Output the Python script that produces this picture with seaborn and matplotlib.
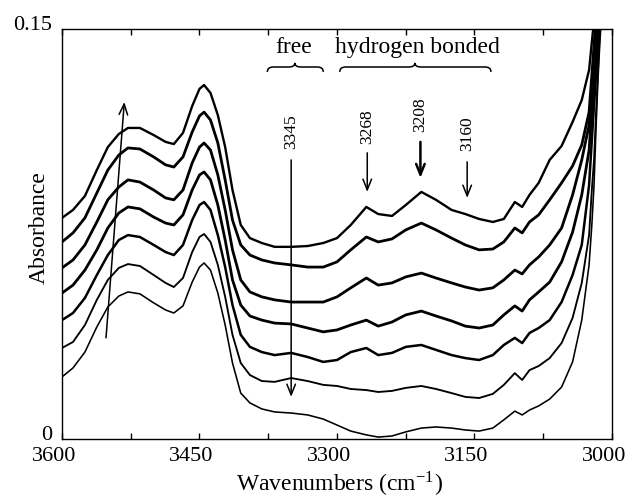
import numpy as np
import pandas as pd
import matplotlib
matplotlib.use("Agg")
import matplotlib.pyplot as plt
import matplotlib.transforms as mtransforms
from matplotlib.path import Path
from matplotlib.patches import PathPatch
import seaborn as sns

# Shared wavenumber grid (cm^-1) for the main body of every spectrum
wavenumber = [3600, 3588, 3575, 3562, 3550, 3538, 3528, 3515, 3500, 3487,
              3478, 3468, 3458, 3450, 3445, 3438, 3430, 3422, 3414, 3405,
              3395, 3382, 3368, 3350, 3332, 3315, 3300, 3285, 3268, 3255,
              3240, 3225, 3208, 3192, 3175, 3160, 3145, 3130, 3118, 3106,
              3098, 3090, 3080, 3068, 3055, 3043, 3033, 3025]

# Absorbance of the seven spectra (top to bottom)
scan1 = [0.0809, 0.0838, 0.0889, 0.0984, 0.1068, 0.1116, 0.1138, 0.1138, 0.1112, 0.1087,
         0.1079, 0.1120, 0.1218, 0.1281, 0.1295, 0.1266, 0.1185, 0.1068, 0.0911, 0.0783,
         0.0735, 0.0717, 0.0703, 0.0703, 0.0706, 0.0717, 0.0735, 0.0783, 0.0849, 0.0823,
         0.0816, 0.0856, 0.0904, 0.0875, 0.0838, 0.0823, 0.0805, 0.0794, 0.0805, 0.0867,
         0.0849, 0.0893, 0.0937, 0.1021, 0.1072, 0.1160, 0.1240, 0.1350]
scan2 = [0.0721, 0.0754, 0.0809, 0.0900, 0.0984, 0.1039, 0.1065, 0.1061, 0.1032, 0.1003,
         0.0995, 0.1032, 0.1123, 0.1182, 0.1196, 0.1167, 0.1083, 0.0948, 0.0801, 0.0710,
         0.0673, 0.0655, 0.0644, 0.0637, 0.0629, 0.0629, 0.0648, 0.0692, 0.0739, 0.0721,
         0.0732, 0.0765, 0.0790, 0.0765, 0.0735, 0.0710, 0.0692, 0.0695, 0.0721, 0.0772,
         0.0754, 0.0794, 0.0820, 0.0875, 0.0937, 0.0999, 0.1076, 0.1196]
scan3 = [0.0626, 0.0655, 0.0710, 0.0794, 0.0875, 0.0922, 0.0948, 0.0940, 0.0911, 0.0882,
         0.0875, 0.0911, 0.1010, 0.1068, 0.1083, 0.1057, 0.0966, 0.0838, 0.0692, 0.0582,
         0.0538, 0.0520, 0.0509, 0.0501, 0.0501, 0.0501, 0.0520, 0.0553, 0.0589, 0.0563,
         0.0571, 0.0593, 0.0607, 0.0589, 0.0571, 0.0556, 0.0545, 0.0553, 0.0582, 0.0618,
         0.0604, 0.0637, 0.0666, 0.0710, 0.0772, 0.0893, 0.1021, 0.1149]
scan4 = [0.0534, 0.0563, 0.0618, 0.0692, 0.0772, 0.0827, 0.0849, 0.0842, 0.0812, 0.0790,
         0.0783, 0.0820, 0.0911, 0.0966, 0.0977, 0.0948, 0.0856, 0.0728, 0.0582, 0.0490,
         0.0450, 0.0435, 0.0424, 0.0421, 0.0406, 0.0392, 0.0399, 0.0417, 0.0435, 0.0413,
         0.0428, 0.0454, 0.0468, 0.0450, 0.0432, 0.0413, 0.0406, 0.0417, 0.0454, 0.0487,
         0.0468, 0.0509, 0.0538, 0.0574, 0.0648, 0.0757, 0.0893, 0.1057]
scan5 = [0.0435, 0.0461, 0.0516, 0.0600, 0.0673, 0.0728, 0.0746, 0.0739, 0.0710, 0.0684,
         0.0673, 0.0710, 0.0801, 0.0856, 0.0867, 0.0838, 0.0746, 0.0629, 0.0490, 0.0381,
         0.0337, 0.0318, 0.0307, 0.0315, 0.0300, 0.0282, 0.0289, 0.0318, 0.0333, 0.0307,
         0.0315, 0.0337, 0.0344, 0.0326, 0.0307, 0.0296, 0.0289, 0.0307, 0.0344, 0.0370,
         0.0351, 0.0388, 0.0406, 0.0435, 0.0501, 0.0600, 0.0710, 0.0929]
scan6 = [0.0333, 0.0355, 0.0417, 0.0509, 0.0582, 0.0626, 0.0640, 0.0633, 0.0600, 0.0571,
         0.0556, 0.0589, 0.0684, 0.0739, 0.0750, 0.0721, 0.0637, 0.0520, 0.0381, 0.0278,
         0.0234, 0.0212, 0.0209, 0.0223, 0.0212, 0.0198, 0.0194, 0.0183, 0.0179, 0.0172,
         0.0176, 0.0187, 0.0194, 0.0183, 0.0168, 0.0154, 0.0150, 0.0165, 0.0198, 0.0241,
         0.0216, 0.0252, 0.0267, 0.0296, 0.0351, 0.0443, 0.0571, 0.0746]
scan7 = [0.0227, 0.0260, 0.0318, 0.0410, 0.0483, 0.0523, 0.0538, 0.0531, 0.0498, 0.0472,
         0.0461, 0.0487, 0.0574, 0.0629, 0.0644, 0.0618, 0.0534, 0.0417, 0.0278, 0.0168,
         0.0132, 0.0110, 0.0099, 0.0095, 0.0088, 0.0073, 0.0051, 0.0029, 0.0015, 0.0007,
         0.0011, 0.0026, 0.0040, 0.0044, 0.0040, 0.0033, 0.0029, 0.0040, 0.0070, 0.0102,
         0.0088, 0.0106, 0.0121, 0.0146, 0.0190, 0.0282, 0.0435, 0.0637]

# Steep rise of each spectrum toward 3000 cm^-1 (runs off the top of the axes)
scan1_tail_wn = [3021, 3019]
scan1_tail_abs = [0.1486, 0.1533]
scan2_tail_wn = [3022, 3019.6, 3017.5]
scan2_tail_abs = [0.1332, 0.1442, 0.1533]
scan3_tail_wn = [3022, 3019.6, 3017.5, 3015.3]
scan3_tail_abs = [0.1240, 0.1350, 0.1442, 0.1551]
scan4_tail_wn = [3022, 3018.5, 3015.3, 3014]
scan4_tail_abs = [0.1204, 0.1350, 0.1497, 0.1551]
scan5_tail_wn = [3022, 3019.6, 3016.4, 3014.2]
scan5_tail_abs = [0.1094, 0.1222, 0.1387, 0.1515]
scan6_tail_wn = [3022, 3019.6, 3017.5, 3015.3, 3013.1, 3012]
scan6_tail_abs = [0.0911, 0.1021, 0.1185, 0.1350, 0.1497, 0.1562]
scan7_tail_wn = [3022, 3019.6, 3017.5, 3015.3, 3013.1, 3010.9]
scan7_tail_abs = [0.0783, 0.0929, 0.1131, 0.1314, 0.1460, 0.1570]

scan_names = ["1", "2", "3", "4", "5", "6", "7"]
x_tick_values = [3600, 3450, 3300, 3150, 3000]
y_tick_values = [0, 0.15]
y_tick_labels = ["0", "0.15"]
peak_labels = ["3345", "3268", "3208", "3160"]

bodies = [scan1, scan2, scan3, scan4, scan5, scan6, scan7]
tails = [(scan1_tail_wn, scan1_tail_abs), (scan2_tail_wn, scan2_tail_abs),
         (scan3_tail_wn, scan3_tail_abs), (scan4_tail_wn, scan4_tail_abs),
         (scan5_tail_wn, scan5_tail_abs), (scan6_tail_wn, scan6_tail_abs),
         (scan7_tail_wn, scan7_tail_abs)]

frames = []
for name, body, (twn, tab) in zip(scan_names, bodies, tails):
    frames.append(pd.DataFrame({"wavenumber": list(wavenumber) + list(twn),
                                "absorbance": list(body) + list(tab),
                                "scan": name}))
df = pd.concat(frames, ignore_index=True)

sns.set_theme(style="white")
plt.rcParams["font.family"] = ["Liberation Serif", "DejaVu Serif"]
plt.rcParams["mathtext.fontset"] = "stix"
plt.rcParams["lines.solid_joinstyle"] = "round"
plt.rcParams["lines.solid_capstyle"] = "round"

fig = plt.figure(figsize=(6.29, 4.99), dpi=100)
ax = fig.add_axes([62 / 629, 60 / 499, 550 / 629, 410 / 499])

widths = {"1": 1.7, "2": 2.0, "3": 2.0, "4": 2.0, "5": 1.8, "6": 1.35, "7": 1.15}
sns.lineplot(data=df, x="wavenumber", y="absorbance", hue="scan", size="scan",
             sizes=widths, palette={n: "black" for n in scan_names},
             estimator=None, sort=True, legend=False, ax=ax)
for ln in ax.get_lines():
    ln.set_solid_joinstyle("round")

ax.set_xlim(3600, 3000)
ax.set_ylim(0, 0.15)
ax.set_xticks(x_tick_values)
ax.set_xticks(np.arange(3000, 3601, 75), minor=True)
ax.set_xticklabels([str(v) for v in x_tick_values])
ax.set_yticks(y_tick_values)
ax.set_yticklabels(y_tick_labels)
ax.tick_params(axis="x", which="both", direction="in", top=True, bottom=True,
               length=4, width=1, color="black")
ax.tick_params(axis="x", which="major", labelsize=16, pad=5.5, labelcolor="black")
ax.tick_params(axis="y", length=0, labelsize=16, pad=7, labelcolor="black")

shift_x = mtransforms.ScaledTranslation(-8 / 100, 0, fig.dpi_scale_trans)
for lab in ax.get_xticklabels():
    lab.set_transform(lab.get_transform() + shift_x)
shift_y = mtransforms.ScaledTranslation(0, 6 / 100, fig.dpi_scale_trans)
for lab in ax.get_yticklabels():
    lab.set_transform(lab.get_transform() + shift_y)

for sp in ax.spines.values():
    sp.set_visible(True)
    sp.set_color("black")
    sp.set_linewidth(1.0)

ax.set_xlabel("Wavenumbers (cm$^{\\mathregular{-1}}$)", fontsize=17, color="black")
ax.set_ylabel("Absorbance", fontsize=17, color="black")
ax.xaxis.set_label_coords(0.505, -0.075)
ax.yaxis.set_label_coords(-0.022, 0.516)

# Trend arrows
open_head = dict(arrowstyle="->,head_length=0.55,head_width=0.22", color="black",
                 lw=1.1, shrinkA=0, shrinkB=0, mutation_scale=14)
ax.annotate("", xy=(3532, 0.1233), xytext=(3552, 0.0370), arrowprops=open_head)
ax.annotate("", xy=(3350, 0.0154), xytext=(3350, 0.1021), arrowprops=open_head)
ax.annotate("", xy=(3267, 0.0904), xytext=(3267, 0.1047), arrowprops=open_head)
ax.annotate("", xy=(3209, 0.0955), xytext=(3209, 0.1087),
            arrowprops=dict(open_head, lw=1.8))
ax.annotate("", xy=(3158, 0.0882), xytext=(3158, 0.1014), arrowprops=open_head)

label_pos = [(3350, 0.1123), (3267, 0.1142), (3209, 0.1185), (3158, 0.1116)]
for text, (xv, yv) in zip(peak_labels, label_pos):
    ax.text(xv, yv, text, rotation=90, ha="center", va="center", fontsize=12.5,
            color="black")


def curly_brace(ax, left, right, tip, y_bar, y_end, y_tip, r):
    s = np.sign(right - left)
    verts = [(left, y_end), (left, y_bar), (left + s * r, y_bar),
             (tip - s * r, y_bar), (tip, y_bar), (tip, y_tip),
             (tip, y_bar), (tip + s * r, y_bar),
             (right - s * r, y_bar), (right, y_bar), (right, y_end)]
    codes = [Path.MOVETO, Path.CURVE3, Path.CURVE3, Path.LINETO,
             Path.CURVE3, Path.CURVE3, Path.CURVE3, Path.CURVE3,
             Path.LINETO, Path.CURVE3, Path.CURVE3]
    ax.add_patch(PathPatch(Path(verts, codes), fill=False, lw=1.1,
                           edgecolor="black", clip_on=False))


curly_brace(ax, 3376, 3315, 3346, 0.1361, 0.1343, 0.1376, 6.5)
curly_brace(ax, 3297, 3132, 3215, 0.1361, 0.1343, 0.1376, 6.5)
ax.text(3347, 0.1431, "free", ha="center", va="center", fontsize=17, color="black")
ax.text(3212, 0.1431, "hydrogen bonded", ha="center", va="center", fontsize=17,
        color="black")

fig.savefig("out.png", dpi=100)
